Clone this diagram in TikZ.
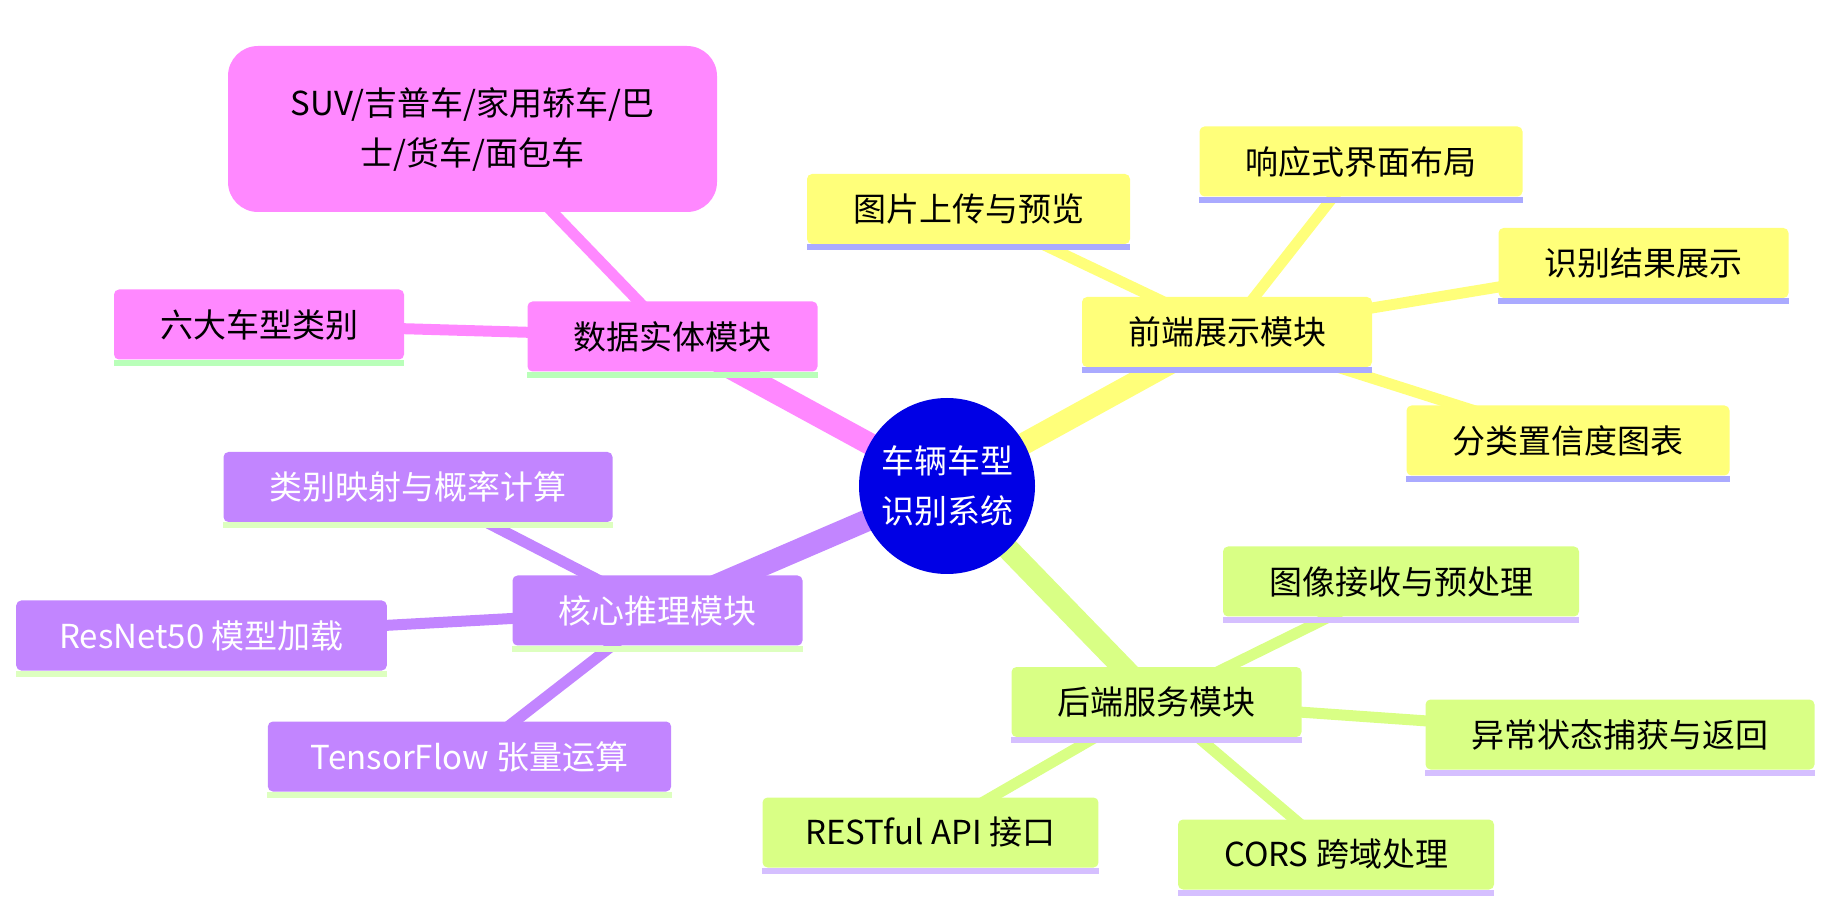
\documentclass[tikz,border=0pt]{standalone}
\usepackage{fontspec}
\setmainfont{Noto Sans CJK SC}
\usepackage{xcolor}
\usetikzlibrary{backgrounds}

\definecolor{rootblue}{HTML}{0000E5}
\definecolor{pinkc}{HTML}{FF88FF}
\definecolor{pinkline}{HTML}{B9FFB9}
\definecolor{yellowc}{HTML}{FFFF7A}
\definecolor{yellowline}{HTML}{AAAAFF}
\definecolor{purplec}{HTML}{C285FF}
\definecolor{purpleline}{HTML}{DDFFBF}
\definecolor{greenc}{HTML}{D9FF85}
\definecolor{greenline}{HTML}{D5BFFF}

\tikzset{
  every node/.append style={font=\fontsize{16.5}{25}\selectfont},
  box/.style={rounded corners=2.5pt,inner xsep=23pt,inner ysep=0pt,minimum height=35pt,align=center},
  trunk/.style={line width=11pt},
  twig/.style={line width=5.5pt}
}

\begin{document}
\begin{tikzpicture}[x=0.5pt,y=-0.5pt]
        \useasboundingbox (0,0) rectangle (1838,914);

        \node[circle,fill=rootblue,text=white,minimum size=88pt,inner sep=0pt,align=center] (root) at (947,486) {车辆车型\\识别系统};

        \node[box,fill=pinkc] (data) at (672.5,336.5) {数据实体模块};
        \node[box,fill=pinkc,rounded corners=15pt,minimum width=244.5pt,minimum height=83pt] (suv) at (472.5,129) {SUV/吉普车/家用轿车/巴\\士/货车/面包车};
        \node[box,fill=pinkc] (six) at (259,324.5) {六大车型类别};

        \node[box,fill=yellowc] (front) at (1227,332) {前端展示模块};
        \node[box,fill=yellowc] (upload) at (968.5,209) {图片上传与预览};
        \node[box,fill=yellowc] (layout) at (1361,161.5) {响应式界面布局};
        \node[box,fill=yellowc] (result) at (1643.5,263) {识别结果展示};
        \node[box,fill=yellowc] (chart) at (1568,440.5) {分类置信度图表};

        \node[box,fill=purplec,text=white] (core) at (657.5,610.5) {核心推理模块};
        \node[box,fill=purplec,text=white] (mapping) at (418,487) {类别映射与概率计算};
        \node[box,fill=purplec,text=white,inner xsep=21.5pt] (resnet) at (201.5,635.5) {ResNet50 模型加载};
        \node[box,fill=purplec,text=white,inner xsep=21.5pt] (tf) at (469.5,756.5) {TensorFlow 张量运算};

        \node[box,fill=greenc] (back) at (1156.5,702) {后端服务模块};
        \node[box,fill=greenc] (recv) at (1401,581.5) {图像接收与预处理};
        \node[box,fill=greenc] (error) at (1620,734.5) {异常状态捕获与返回};
        \node[box,fill=greenc] (cors) at (1336,854.5) {CORS 跨域处理};
        \node[box,fill=greenc,inner xsep=21.5pt] (rest) at (930.5,832.5) {RESTful API 接口};

        \foreach \n/\c in {data/pinkline,six/pinkline,
            front/yellowline,upload/yellowline,layout/yellowline,result/yellowline,chart/yellowline,
            core/purpleline,mapping/purpleline,resnet/purpleline,tf/purpleline,
            back/greenline,recv/greenline,error/greenline,cors/greenline,rest/greenline}
          \fill[\c] (\n.south west) rectangle ([yshift=-3pt]\n.south east);

        \begin{scope}[on background layer]
          \draw[trunk,pinkc] (root.center) -- (data.center);
          \draw[trunk,yellowc] (root.center) -- (front.center);
          \draw[trunk,purplec] (root.center) -- (core.center);
          \draw[trunk,greenc] (root.center) -- (back.center);

          \draw[twig,pinkc] (data.center) -- (suv.center);
          \draw[twig,pinkc] (data.center) -- (six.center);
          \foreach \m in {upload,layout,result,chart}
            \draw[twig,yellowc] (front.center) -- (\m.center);
          \foreach \m in {mapping,resnet,tf}
            \draw[twig,purplec] (core.center) -- (\m.center);
          \foreach \m in {recv,error,cors,rest}
            \draw[twig,greenc] (back.center) -- (\m.center);
        \end{scope}
      \end{tikzpicture}
\end{document}
